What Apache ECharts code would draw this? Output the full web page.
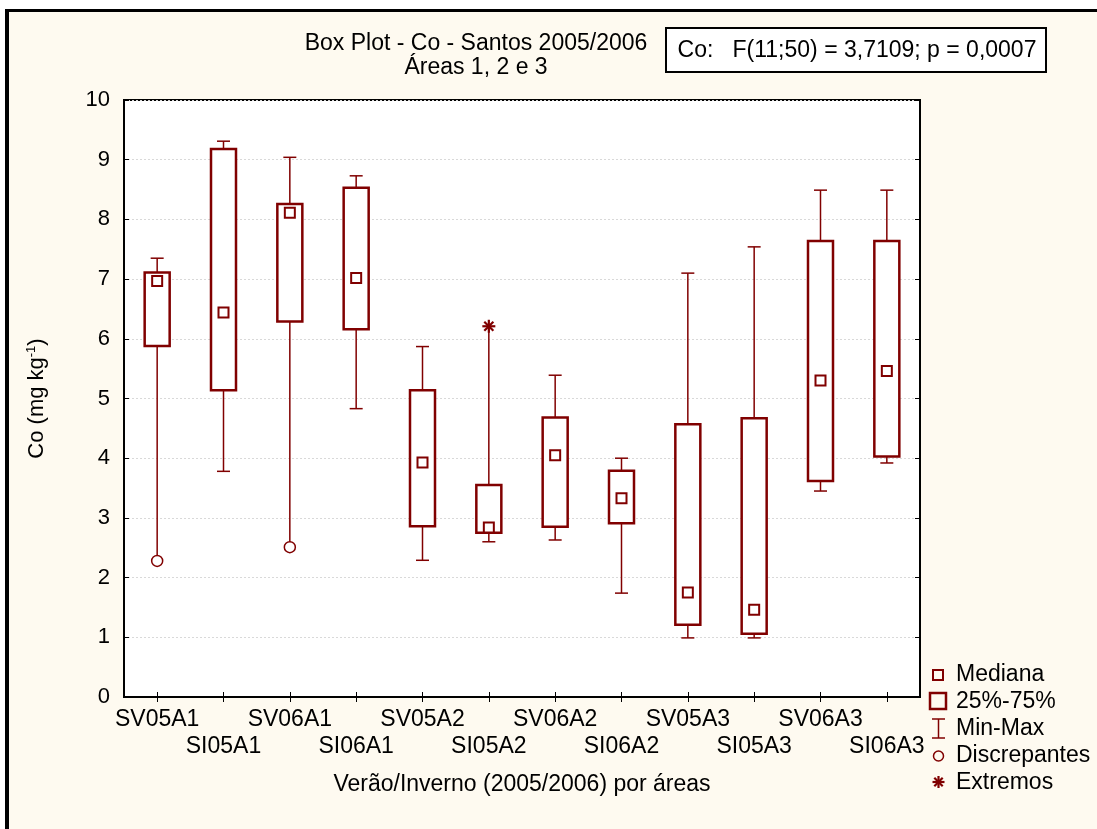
<!DOCTYPE html>
<html>
<head>
<meta charset="utf-8">
<script src="https://cdn.jsdelivr.net/npm/echarts@6/dist/echarts.min.js"></script>
<style>
  html, body { margin: 0; padding: 0; background: #ffffff; }
  #frame {
    position: absolute; left: 5px; top: 9px; width: 1200px; height: 900px;
    background: #fefaf0; border-left: 4px solid #000; border-top: 3px solid #000;
  }
  #chart { position: absolute; left: 0; top: 0; width: 1097px; height: 829px; }
</style>
</head>
<body>
<div id="frame"></div>
<div id="chart"></div>
<script>
// dados
const categories = ['SV05A1', 'SI05A1', 'SV06A1', 'SI06A1', 'SV05A2', 'SI05A2',
  'SV06A2', 'SI06A2', 'SV05A3', 'SI05A3', 'SV06A3', 'SI06A3'];
const minVals = [2.28, 3.78, 2.51, 4.83, 2.29, 2.60, 2.63, 1.74, 0.99, 0.99, 3.45, 3.92];
const q1Vals = [5.88, 5.14, 6.29, 6.16, 2.86, 2.75, 2.85, 2.91, 1.21, 1.06, 3.62, 4.03];
const medianVals = [6.97, 6.44, 8.11, 7.02, 3.93, 2.84, 4.05, 3.33, 1.75, 1.46, 5.30, 5.46];
const q3Vals = [7.11, 9.18, 8.26, 8.53, 5.14, 3.55, 4.68, 3.79, 4.57, 4.67, 7.64, 7.64];
const maxVals = [7.35, 9.31, 9.04, 8.73, 5.87, 6.21, 5.39, 4.00, 7.10, 7.54, 8.49, 8.49];
const outliers = [[0, 2.28], [2, 2.51]];   // Discrepantes
const extremes = [[5, 6.21]];              // Extremos
const yTicks = [0, 10, 1];

const RED = '#800000';
const FONT = "'Liberation Sans', Arial, sans-serif";
const FS = 23;

const isEnd = (i, v) => outliers.concat(extremes).some(p => p[0] === i && p[1] === v);
const boxData = categories.map((c, i) => [
  i, minVals[i], q1Vals[i], medianVals[i], q3Vals[i], maxVals[i],
  isEnd(i, minVals[i]) ? 0 : 1, isEnd(i, maxVals[i]) ? 0 : 1
]);

const seg = (x1, y1, x2, y2, w) => ({
  type: 'line', shape: { x1, y1, x2, y2 }, style: { stroke: RED, lineWidth: w || 1.5 }
});

// asterisco centrado em (cx, cy)
const star = (cx, cy, r) => {
  const d = r * 0.7;
  return [
    seg(cx, cy - r, cx, cy + r, 2.2),
    seg(cx - r, cy, cx + r, cy, 2.2),
    seg(cx - d, cy - d, cx + d, cy + d, 2.2),
    seg(cx + d, cy - d, cx - d, cy + d, 2.2)
  ];
};

function renderBox(params, api) {
  const i = api.value(0);
  const x = api.coord([i, 0])[0];
  const y = v => api.coord([i, api.value(v)])[1];
  const bw = 25, cw = 13, ms = 10;
  const kids = [
    seg(x, y(1), x, y(2)),
    seg(x, y(4), x, y(5)),
    {
      type: 'rect', shape: { x: x - bw / 2, y: y(4), width: bw, height: y(2) - y(4) },
      style: { fill: '#fff', stroke: RED, lineWidth: 2.5 }
    },
    {
      type: 'rect', shape: { x: x - ms / 2, y: y(3) - ms / 2, width: ms, height: ms },
      style: { fill: '#fff', stroke: RED, lineWidth: 2 }
    }
  ];
  if (api.value(6)) kids.push(seg(x - cw / 2, y(1), x + cw / 2, y(1)));
  if (api.value(7)) kids.push(seg(x - cw / 2, y(5), x + cw / 2, y(5)));
  return { type: 'group', children: kids };
}

function renderStar(params, api) {
  const p = api.coord([api.value(0), api.value(1)]);
  return { type: 'group', children: star(p[0], p[1], 6.5) };
}

const chart = echarts.init(document.getElementById('chart'));
const axisLine = { show: true, lineStyle: { color: '#000', width: 2 } };
const inTick = { show: true, inside: true, length: 5, lineStyle: { color: '#000', width: 1 } };

const option = {
  backgroundColor: 'transparent',
  animation: false,
  textStyle: { fontFamily: FONT },
  title: {
    text: 'Box Plot - Co - Santos 2005/2006\nÁreas 1, 2 e 3',
    left: 471, top: 27, textAlign: 'center',
    textStyle: { fontSize: FS, fontWeight: 'normal', color: '#000', lineHeight: 24, fontFamily: FONT }
  },
  grid: {
    left: 124, right: 177, top: 100, bottom: 132,
    show: true, backgroundColor: '#fff', borderColor: '#000', borderWidth: 2
  },
  xAxis: [{
    type: 'category', data: categories, position: 'bottom',
    axisLine, axisTick: Object.assign({ alignWithLabel: true }, inTick),
    axisLabel: {
      interval: 0, margin: 9, fontSize: FS, color: '#000', lineHeight: 27, fontFamily: FONT,
      formatter: (v, idx) => (idx % 2 ? '\n' + v : v)
    },
    name: 'Verão/Inverno (2005/2006) por áreas', nameLocation: 'middle', nameGap: 76,
    nameTextStyle: { fontSize: FS, color: '#000', fontFamily: FONT }
  }, {
    type: 'category', data: categories, position: 'top',
    axisLine, axisTick: Object.assign({ alignWithLabel: true }, inTick),
    axisLabel: { show: false }
  }],
  yAxis: [{
    type: 'value', min: yTicks[0], max: yTicks[1], interval: yTicks[2], position: 'left',
    axisLine, axisTick: inTick,
    axisLabel: { fontSize: 22, color: '#000', margin: 14, fontFamily: FONT },
    splitLine: { show: true, lineStyle: { color: '#d9d9d9', type: [2, 2], width: 1 } },
    name: '{a|Co (mg kg}{s|-1}{a|)}', nameLocation: 'middle', nameGap: 76,
    nameTextStyle: {
      rich: {
        a: { fontSize: 22, color: '#000', fontFamily: FONT },
        s: { fontSize: 13, color: '#000', fontFamily: FONT, verticalAlign: 'top', padding: [0, 0, 10, 0] }
      }
    }
  }, {
    type: 'value', min: yTicks[0], max: yTicks[1], interval: yTicks[2], position: 'right',
    axisLine, axisTick: inTick, axisLabel: { show: false }, splitLine: { show: false }
  }],
  series: [{
    name: '25%-75%', type: 'custom', renderItem: renderBox,
    encode: { x: 0, y: [1, 2, 3, 4, 5] }, data: boxData, z: 3
  }, {
    name: 'Discrepantes', type: 'scatter', data: outliers, symbol: 'circle', symbolSize: 11,
    itemStyle: { color: '#fff', borderColor: RED, borderWidth: 1.5, opacity: 1 }, z: 4
  }, {
    name: 'Extremos', type: 'custom', renderItem: renderStar,
    encode: { x: 0, y: 1 }, data: extremes, z: 4
  }],
  graphic: [
    {
      type: 'rect', shape: { x: 666, y: 28, width: 380, height: 44 },
      style: { fill: '#fff', stroke: '#000', lineWidth: 2 }
    },
    {
      type: 'text', x: 857, y: 51,
      style: {
        text: 'Co:   F(11;50) = 3,7109; p = 0,0007', fontSize: FS, fontFamily: FONT,
        fill: '#000', align: 'center', verticalAlign: 'middle'
      }
    },
    // legenda
    { type: 'rect', shape: { x: 933, y: 670, width: 10, height: 10 }, style: { fill: 'none', stroke: RED, lineWidth: 2 } },
    { type: 'rect', shape: { x: 930, y: 693, width: 16, height: 16 }, style: { fill: 'none', stroke: RED, lineWidth: 2.5 } },
    seg(932, 719, 945, 719),
    seg(938.5, 719, 938.5, 738),
    seg(932, 738, 945, 738),
    { type: 'circle', shape: { cx: 938.5, cy: 756, r: 5 }, style: { fill: 'none', stroke: RED, lineWidth: 1.5 } },
    ...star(938.5, 782, 6),
    ...['Mediana', '25%-75%', 'Min-Max', 'Discrepantes', 'Extremos'].map((t, k) => ({
      type: 'text', x: 956, y: 675 + k * 26.8,
      style: { text: t, fontSize: FS, fontFamily: FONT, fill: '#000', verticalAlign: 'middle' }
    }))
  ]
};

chart.setOption(option);
</script>
</body>
</html>
